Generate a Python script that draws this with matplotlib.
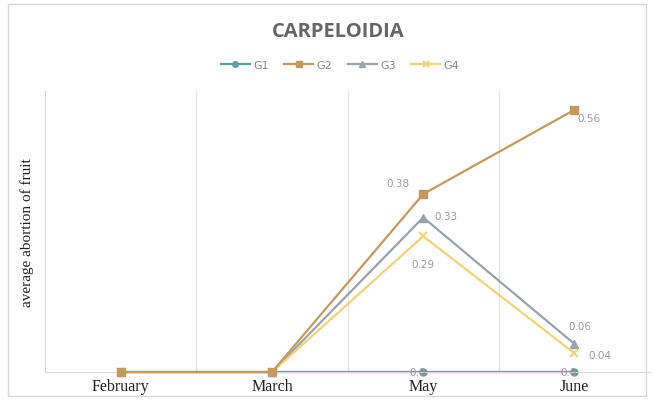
import matplotlib
matplotlib.use("Agg")
import matplotlib.pyplot as plt
from matplotlib.patches import Rectangle

MONTHS = ["February", "March", "May", "June"]
G1 = [0, 0, 0, 0]
G2 = [0, 0, 0.38, 0.56]
G3 = [0, 0, 0.33, 0.06]
G4 = [0, 0, 0.29, 0.04]

SERIES = [
    ("G1", G1, "#5a9ea3", "o", 5),
    ("G2", G2, "#c49a5c", "s", 6),
    ("G3", G3, "#9aa2ab", "^", 6),
    ("G4", G4, "#f0d477", "x", 6),
]

# (series index, point index, text, dx, dy, ha)
LABELS = [
    (1, 2, "0.38", -10, 8, "right"),
    (1, 3, "0.56", 2, -6, "left"),
    (2, 2, "0.33", 8, 1, "left"),
    (3, 2, "0.29", 0, -20, "center"),
    (2, 3, "0.06", 4, 13, "center"),
    (3, 3, "0.04", 10, -1, "left"),
    (0, 2, "0.0", -4, 0, "center"),
    (0, 3, "0.0", -4, 0, "center"),
]

fig = plt.figure(figsize=(6.54, 4.02), dpi=100)
fig.patches.append(Rectangle((0.012, 0.012), 0.976, 0.976, transform=fig.transFigure,
                             fill=False, edgecolor="#d9d9d9", lw=1))
ax = fig.add_axes([0.069, 0.072, 0.925, 0.699])

x = list(range(len(MONTHS)))
# G1 sits under the others along the axis (only visible once they lift off)
zorders = {"G1": 2, "G2": 3.3, "G3": 3.1, "G4": 3.2}
for name, vals, color, marker, ms in SERIES:
    ax.plot(x, vals, color=color, lw=1.6, marker=marker, ms=ms,
            mew=1.5 if marker == "x" else 1, label=name, zorder=zorders[name],
            clip_on=False)

for si, pi, txt, dx, dy, ha in LABELS:
    ax.annotate(txt, (x[pi], SERIES[si][1][pi]), xytext=(dx, dy),
                textcoords="offset points", ha=ha, va="center",
                fontsize=7.5, color="#9a9a9a", zorder=4)

ax.set_xlim(-0.5, 3.5)
ax.set_ylim(0, 0.6)
ax.set_xticks(x)
ax.set_xticklabels(MONTHS, family="Liberation Serif", fontsize=11.5, color="#222222")
ax.tick_params(axis="x", length=0, pad=4)
ax.set_yticks([])
for gx in [0.5, 1.5, 2.5]:
    ax.axvline(gx, color="#e3e3e3", lw=0.9, zorder=1)
for side in ["top", "right"]:
    ax.spines[side].set_visible(False)
ax.spines["left"].set_color("#d9d9d9")
ax.spines["bottom"].set_color("#d9d9d9")
ax.set_ylabel("average abortion of fruit", family="Liberation Serif",
              fontsize=11, color="#222222", labelpad=8)

fig.text(0.517, 0.92, "CARPELOIDIA", ha="center", va="center", fontsize=14.5,
         fontweight="bold", color="#666666", family="Open Sans")

handles, labels = ax.get_legend_handles_labels()
fig.legend(handles, labels, loc="center", bbox_to_anchor=(0.52, 0.835), ncol=4,
           frameon=False, fontsize=8, labelcolor="#888888", handlelength=2.6,
           columnspacing=1.4, handletextpad=0.3, markerscale=0.8)

fig.savefig("out.png", dpi=100)
